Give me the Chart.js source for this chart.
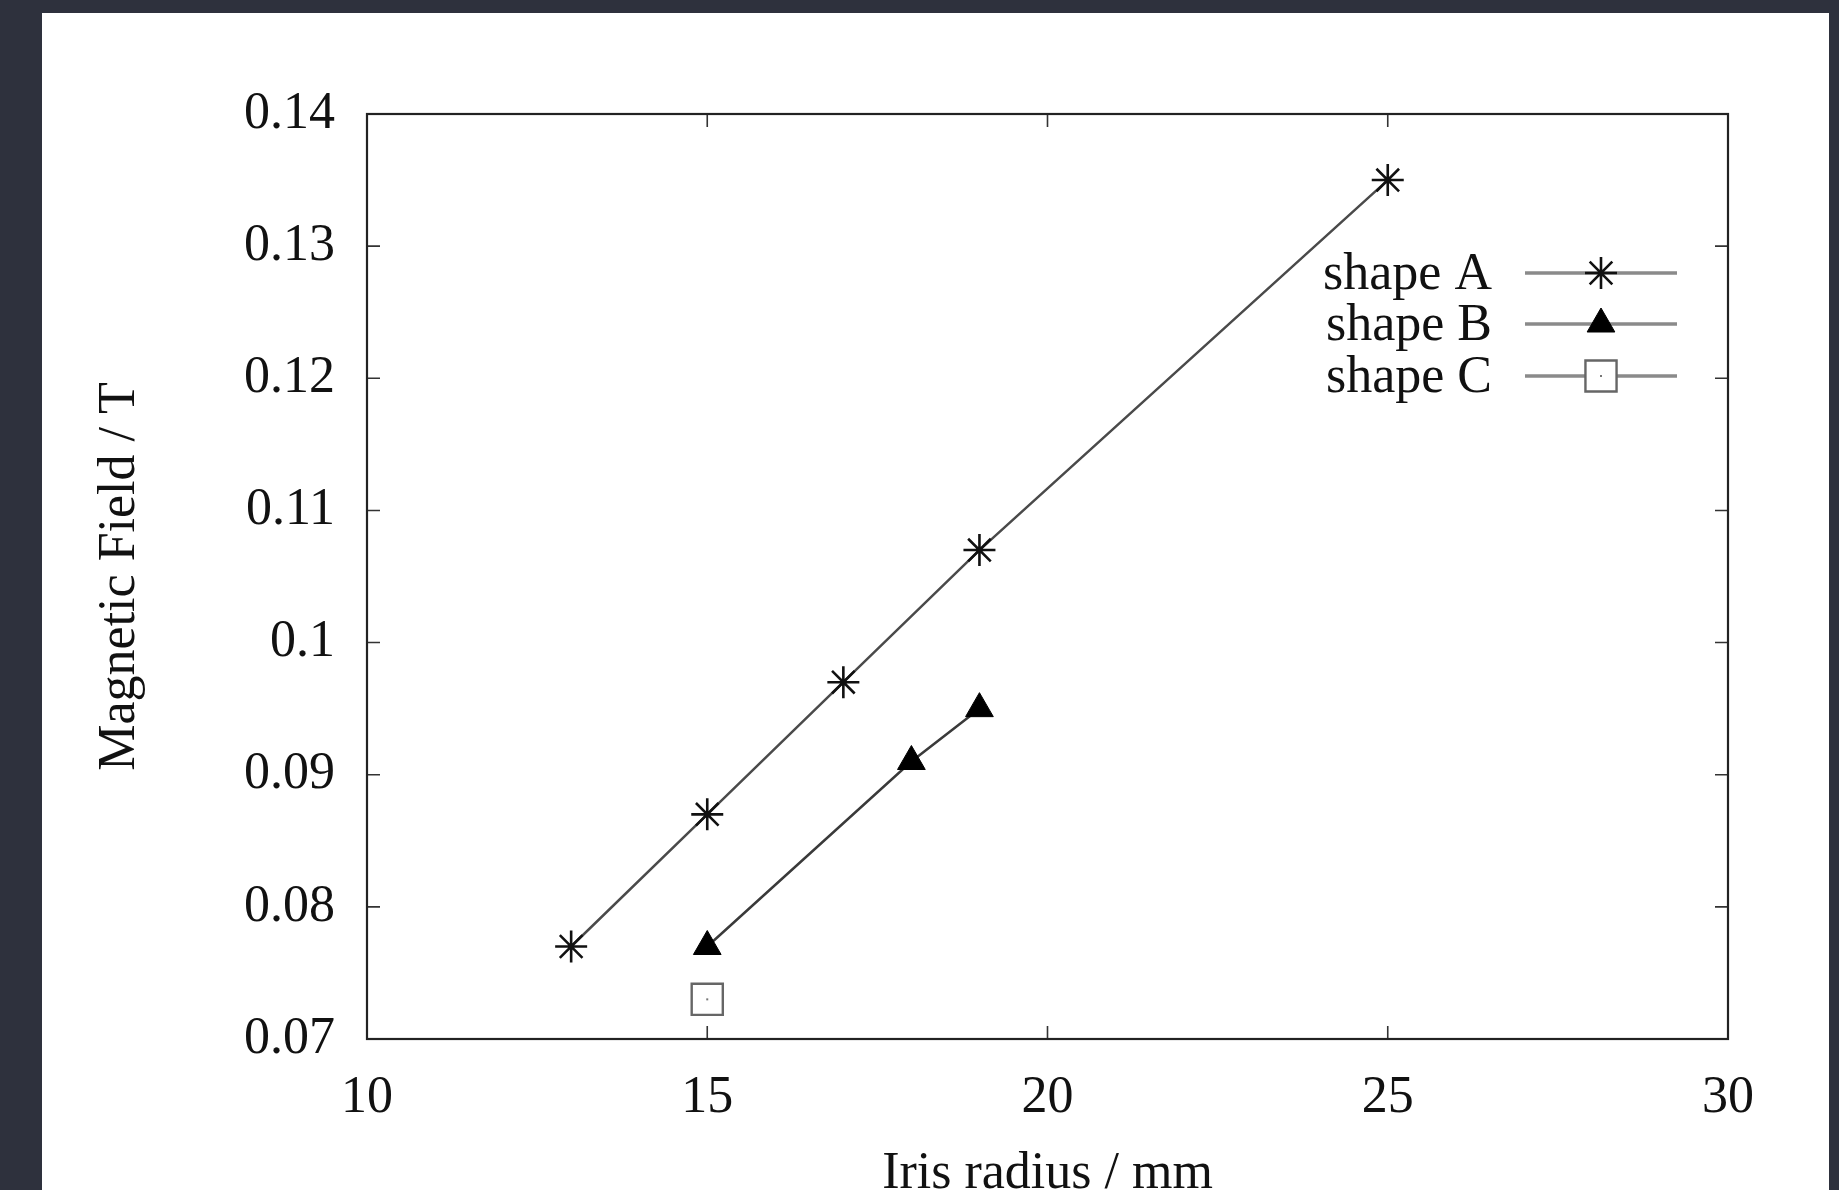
<!DOCTYPE html>
<html>
<head>
<meta charset="utf-8">
<script src="https://cdn.jsdelivr.net/npm/chart.js@4.4.1/dist/chart.umd.min.js"></script>
<style>
  html, body { margin: 0; padding: 0; background: #2e313d; overflow: hidden; }
  #panel { position: absolute; left: 42px; top: 13px; width: 1787px; height: 1210px; background: #fff; }
  canvas { display: block; }
</style>
</head>
<body>
<div id="panel"><canvas id="chart" width="1787" height="1210"></canvas></div>
<script>
// ticks
const xTicks = [10, 15, 20, 25, 30];
const yTicks = [0.07, 0.08, 0.09, 0.10, 0.11, 0.12, 0.13, 0.14];

// series
const shapeAX = [13, 15, 17, 19, 25];
const shapeAY = [0.077, 0.087, 0.097, 0.107, 0.135];
const shapeBX = [15, 18, 19];
const shapeBY = [0.077, 0.091, 0.095];
const shapeCX = [15];
const shapeCY = [0.073];

const seriesLabels = ["shape A", "shape B", "shape C"];

const FONT = "'Liberation Serif', 'DejaVu Serif', serif";

function toPoints(xs, ys) {
  return xs.map((x, i) => ({ x: x, y: ys[i] }));
}

// рамка и внутренние засечки как у gnuplot
const frameTicks = {
  id: "frameTicks",
  beforeDatasetsDraw(chart) {
    const { ctx, chartArea: a } = chart;
    const xs = chart.scales.x;
    const ys = chart.scales.y;
    const len = 13;
    ctx.save();
    ctx.strokeStyle = "#333";
    ctx.lineWidth = 1.6;
    ctx.beginPath();
    xTicks.forEach((v) => {
      const px = xs.getPixelForValue(v);
      ctx.moveTo(px, a.bottom);
      ctx.lineTo(px, a.bottom - len);
      ctx.moveTo(px, a.top);
      ctx.lineTo(px, a.top + len);
    });
    yTicks.forEach((v) => {
      const py = ys.getPixelForValue(v);
      ctx.moveTo(a.left, py);
      ctx.lineTo(a.left + len, py);
      ctx.moveTo(a.right, py);
      ctx.lineTo(a.right - len, py);
    });
    ctx.stroke();
    ctx.strokeStyle = "#222";
    ctx.lineWidth = 2.2;
    ctx.strokeRect(a.left, a.top, a.right - a.left, a.bottom - a.top);
    ctx.restore();
  },
};

// маленькая точка в центре квадрата
const centerDots = {
  id: "centerDots",
  afterDatasetsDraw(chart) {
    const { ctx } = chart;
    const meta = chart.getDatasetMeta(2);
    ctx.save();
    ctx.fillStyle = "#777";
    meta.data.forEach((p) => {
      ctx.fillRect(p.x - 1, p.y - 1, 2, 2);
    });
    ctx.restore();
  },
};

// легенда внутри графика: текст справа выровнен, справа линия с маркером
const innerLegend = {
  id: "innerLegend",
  afterDatasetsDraw(chart) {
    const { ctx } = chart;
    const textRight = 1450;
    const lineL = 1483;
    const lineR = 1635;
    const rowY = [260, 311, 363];
    ctx.save();
    chart.data.datasets.forEach((ds, i) => {
      const y = rowY[i];
      ctx.fillStyle = "#111";
      ctx.font = "52px " + FONT;
      ctx.textAlign = "right";
      ctx.textBaseline = "middle";
      ctx.fillText(ds.label, textRight, y + 2);

      ctx.strokeStyle = "#8a8a8a";
      ctx.lineWidth = 3.5;
      ctx.beginPath();
      ctx.moveTo(lineL, y);
      ctx.lineTo(lineR, y);
      ctx.stroke();

      const cx = (lineL + lineR) / 2;
      ctx.strokeStyle = ds.pointBorderColor;
      ctx.fillStyle = ds.pointBackgroundColor;
      ctx.lineWidth = ds.pointBorderWidth;
      if (ds.pointStyle === "rect") {
        ctx.fillStyle = "#fff";
      }
      Chart.helpers.drawPoint(ctx, {
        pointStyle: ds.pointStyle,
        radius: ds.pointRadius,
        rotation: 0,
        borderWidth: ds.pointBorderWidth,
      }, cx, y);
      if (ds.pointStyle === "rect") {
        ctx.fillStyle = "#777";
        ctx.fillRect(cx - 1, y - 1, 2, 2);
      }
    });
    ctx.restore();
  },
};

const datasets = [
  {
    label: seriesLabels[0],
    data: toPoints(shapeAX, shapeAY),
    borderColor: "#4a4a4a",
    borderWidth: 2.5,
    pointStyle: "star",
    pointRadius: 16,
    pointBorderColor: "#111",
    pointBackgroundColor: "#111",
    pointBorderWidth: 2.6,
    showLine: true,
    clip: false,
  },
  {
    label: seriesLabels[1],
    data: toPoints(shapeBX, shapeBY),
    borderColor: "#3a3a3a",
    borderWidth: 2.5,
    pointStyle: "triangle",
    pointRadius: 16,
    pointBorderColor: "#000",
    pointBackgroundColor: "#000",
    pointBorderWidth: 1,
    showLine: true,
    clip: false,
  },
  {
    label: seriesLabels[2],
    data: toPoints(shapeCX, shapeCY),
    borderColor: "#777",
    borderWidth: 2.5,
    pointStyle: "rect",
    pointRadius: 22,
    pointBorderColor: "#666",
    pointBackgroundColor: "rgba(255,255,255,0)",
    pointBorderWidth: 2.4,
    showLine: true,
    clip: false,
  },
];

new Chart(document.getElementById("chart"), {
  type: "scatter",
  data: { datasets: datasets },
  plugins: [frameTicks, centerDots, innerLegend],
  options: {
    responsive: false,
    animation: false,
    layout: { padding: { left: 0, top: 101, right: 101, bottom: 0 } },
    plugins: {
      legend: { display: false },
      tooltip: { enabled: false },
    },
    scales: {
      x: {
        type: "linear",
        min: 10,
        max: 30,
        afterBuildTicks: (s) => { s.ticks = xTicks.map((v) => ({ value: v })); },
        afterFit: (s) => { s.height = 184; },
        grid: { display: false },
        border: { display: false },
        ticks: {
          color: "#111",
          font: { family: FONT, size: 52 },
          padding: 20,
          maxRotation: 0,
          callback: (v) => String(v),
        },
        title: {
          display: true,
          text: "Iris radius / mm",
          color: "#111",
          font: { family: FONT, size: 52 },
          padding: { top: 0, bottom: 17 },
        },
      },
      y: {
        type: "linear",
        min: 0.07,
        max: 0.14,
        afterBuildTicks: (s) => { s.ticks = yTicks.map((v) => ({ value: v })); },
        afterFit: (s) => { s.width = 325; },
        grid: { display: false },
        border: { display: false },
        ticks: {
          color: "#111",
          font: { family: FONT, size: 52 },
          padding: 24,
          callback: (v) => String(Number(v.toFixed(2))),
        },
        title: {
          display: true,
          text: "Magnetic Field / T",
          color: "#111",
          font: { family: FONT, size: 52 },
          padding: { top: 47, bottom: 0 },
        },
      },
    },
  },
});
</script>
</body>
</html>
